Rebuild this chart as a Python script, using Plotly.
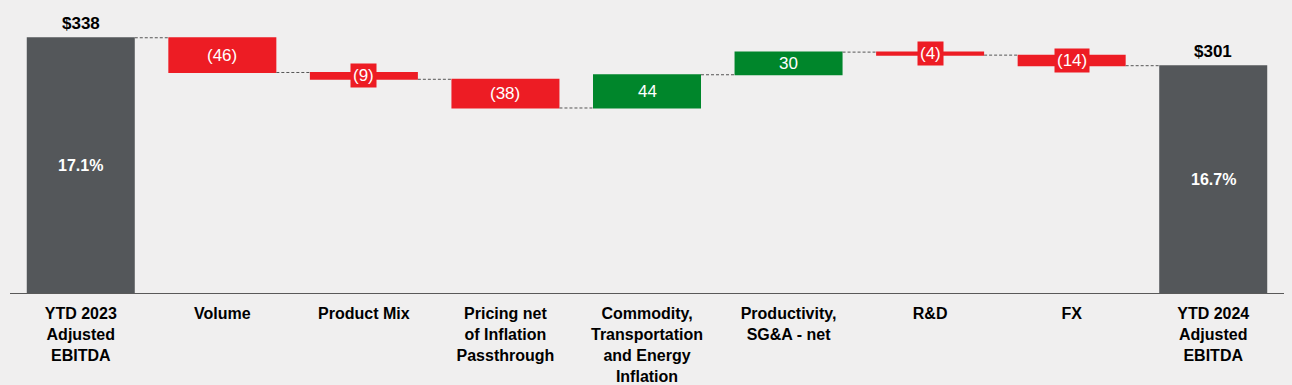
import plotly.graph_objects as go

categories = [
    "YTD 2023<br>Adjusted<br>EBITDA",
    "Volume",
    "Product Mix",
    "Pricing net<br>of Inflation<br>Passthrough",
    "Commodity,<br>Transportation<br>and Energy<br>Inflation",
    "Productivity,<br>SG&A - net",
    "R&D",
    "FX",
    "YTD 2024<br>Adjusted<br>EBITDA",
]
start_value = 338
deltas = [-46, -9, -38, 44, 30, -4, -14]
end_value = 301
delta_labels = ["(46)", "(9)", "(38)", "44", "30", "(4)", "(14)"]
total_labels = ["$338", "$301"]
margin_labels = ["17.1%", "16.7%"]
boxed = [False, True, False, False, False, True, True]

GRAY = "#54575A"
RED = "#ED1C24"
GREEN = "#00862B"
BG = "#F0EFEF"
FONT = "Liberation Sans, Arial, sans-serif"

measures = ["absolute"] + ["relative"] * len(deltas) + ["total"]
yvals = [start_value] + deltas + [end_value]

fig = go.Figure(go.Waterfall(
    x=categories,
    y=yvals,
    measure=measures,
    width=0.763,
    increasing=dict(marker=dict(color=GREEN)),
    decreasing=dict(marker=dict(color=RED)),
    totals=dict(marker=dict(color=GRAY)),
    connector=dict(line=dict(color="#555555", width=1, dash="3px,2px"), mode="between"),
    hoverinfo="skip",
))

annotations = []
for cat, val, lab, pct in [(categories[0], start_value, total_labels[0], margin_labels[0]),
                           (categories[-1], end_value, total_labels[1], margin_labels[1])]:
    annotations.append(dict(x=cat, y=val, text="<b>%s</b>" % lab, showarrow=False,
                            yshift=14, font=dict(family=FONT, size=17, color="#000000")))
    annotations.append(dict(x=cat, y=val / 2, text="<b>%s</b>" % pct, showarrow=False,
                            font=dict(family=FONT, size=16, color="#FFFFFF")))

level = start_value
for i, d in enumerate(deltas):
    cat = categories[i + 1]
    mid = level + d / 2
    ann = dict(x=cat, y=mid, text=delta_labels[i], showarrow=False,
               font=dict(family=FONT, size=17, color="#FFFFFF"))
    if boxed[i]:
        ann.update(bgcolor=RED, borderpad=2)
    annotations.append(ann)
    level += d

fig.update_layout(
    width=1292, height=385,
    margin=dict(l=10, r=8, t=0, b=87),
    paper_bgcolor=BG, plot_bgcolor=BG,
    showlegend=False,
    annotations=annotations,
    font=dict(family=FONT),
)
fig.update_xaxes(
    range=[-0.5, 8.5],
    showline=True, linecolor="#595959", linewidth=1,
    ticks="", showgrid=False, zeroline=False,
    ticklabelstandoff=6,
    tickfont=dict(family=FONT, size=16, color="#000000"),
    tickprefix="<b>", ticksuffix="</b>",
)
fig.update_yaxes(
    range=[0, 388], visible=False, showgrid=False, zeroline=False,
)

fig.write_html(
    "out.html",
    config={"displayModeBar": False},
    post_script="document.body.style.margin='0';document.body.style.background='#F0EFEF';",
)
